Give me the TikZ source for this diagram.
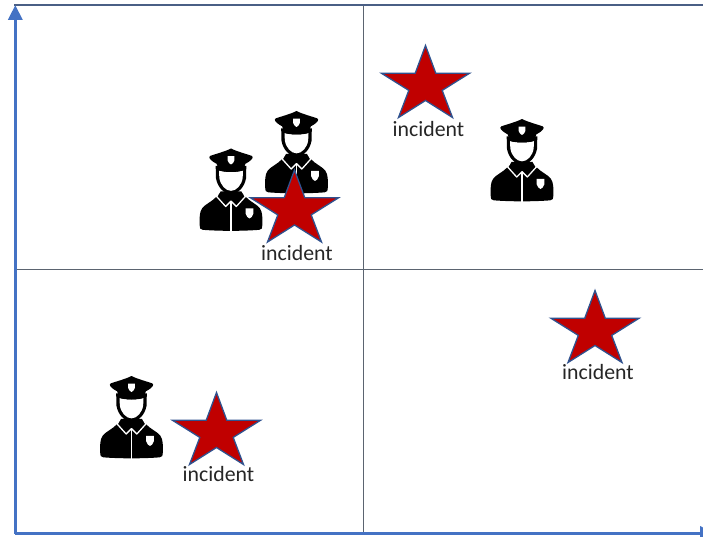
\documentclass[tikz,border=0pt]{standalone}
\usepackage{fontspec}
\setmainfont{Carlito}
\usetikzlibrary{arrows.meta}
\definecolor{axisblue}{HTML}{4472C4}
\definecolor{gridgray}{HTML}{5B6470}
\definecolor{topblue}{HTML}{4A5F85}
\definecolor{starred}{HTML}{C00000}
\definecolor{starline}{HTML}{2F528F}
\tikzset{
  gridline/.style={draw=gridgray,line width=0.9pt},
  topline/.style={draw=topblue,line width=1.6pt},
  axisline/.style={draw=axisblue,line width=3.4pt,-{Triangle[length=15pt,width=14pt]}},
  incidentlabel/.style={inner sep=0pt,font=\fontsize{21.8}{24}\selectfont,text=black!85},
  officer/.pic={
    \begin{scope}[x=0.3333pt,y=-0.3333pt,shift={(-125,-18)}]
      % body
      \fill[black] (40,262) .. controls (32,262) and (31,256) .. (31,248)
        .. controls (30,225) and (31,208) .. (38,198)
        .. controls (48,184) and (68,178) .. (82,162) -- (92,147) -- (158,147) -- (168,162)
        .. controls (182,178) and (202,184) .. (212,198)
        .. controls (219,208) and (220,225) .. (219,248)
        .. controls (219,256) and (218,262) .. (210,262)
        .. controls (160,266) and (90,266) .. (40,262) -- cycle;
      % collar
      \draw[white,line width=1.3pt,line join=round] (92,145) -- (82,162) -- (109,192) -- (125,176) -- (141,192) -- (168,162) -- (158,145);
      \draw[white,line width=1.2pt] (125,176) -- (125,268);
      % badge on chest
      \fill[white] (169,198) -- (192,198) -- (192,214) .. controls (190,222) and (185,226) .. (180.5,228)
        .. controls (176,226) and (171,222) .. (169,214) -- cycle;
      % head
      \fill[black] (79,70) -- (171,70) -- (170,108) .. controls (165,134) and (147,154) .. (125,154)
        .. controls (103,154) and (85,134) .. (80,108) -- cycle;
      \fill[white] (89,84) .. controls (110,90) and (140,90) .. (161,84) -- (160,106)
        .. controls (157,128) and (141,145) .. (125,145)
        .. controls (109,145) and (93,128) .. (90,106) -- cycle;
      % cap
      \fill[black] (125,18) .. controls (145,28) and (170,34) .. (187,40)
        .. controls (194,44) and (190,52) .. (168,64) -- (161,84)
        .. controls (140,90) and (110,90) .. (89,84) -- (82,64)
        .. controls (60,52) and (56,44) .. (63,40)
        .. controls (80,34) and (105,28) .. (125,18) -- cycle;
      \fill[white] (115,41) -- (135,41) -- (135,54) .. controls (133,61) and (129,64) .. (125,66)
        .. controls (121,64) and (117,61) .. (115,54) -- cycle;
    \end{scope}
  },
  incidentstar/.pic={
    \draw[fill=starred,draw=starline,line width=1.3pt,line join=miter,x=1pt,y=-1pt]
      (0,0) -- (10.3,27.8) -- (44,27.8) -- (16.7,44.9) -- (27,72)
      -- (0,55) -- (-27,72) -- (-16.7,44.9) -- (-44,27.8) -- (-10.3,27.8) -- cycle;
  }
}
\begin{document}
\begin{tikzpicture}[x=1pt,y=-1pt]
  \useasboundingbox (0,0) rectangle (703,537);
  \clip (0,0) rectangle (703,537);
  \fill[white] (0,0) rectangle (703,537);
  \coordinate (topleft) at (14,5.2);
  \coordinate (topright) at (703,5.2);
  \coordinate (midtop) at (363.5,5.5);
  \coordinate (midbottom) at (363.5,532);
  \coordinate (midleft) at (15,269);
  \coordinate (midright) at (703,269);
  \coordinate (origin) at (15.3,533.5);
  \coordinate (ytip) at (15.3,5);
  \coordinate (xtip) at (715,533.5);
  \draw[gridline] (midtop) -- (midbottom);
  \draw[gridline] (midleft) -- (midright);
  \draw[topline] (topleft) -- (topright);
  \draw[axisline] (origin) -- (ytip);
  \draw[axisline] (origin) -- (xtip);

  \pic (officerA) at (231,148.5) {officer};
  \pic (officerB) at (296.5,111) {officer};
  \pic (officerC) at (522,119) {officer};
  \pic (officerD) at (131.5,376) {officer};

  \pic (starA) at (294.5,170) {incidentstar};
  \pic (starB) at (425.5,45.5) {incidentstar};
  \pic (starC) at (595,290.5) {incidentstar};
  \pic (starD) at (216.5,392.5) {incidentstar};

  \node[incidentlabel] (labelA) at (297,253) {incident};
  \node[incidentlabel] (labelB) at (428.5,129) {incident};
  \node[incidentlabel] (labelC) at (598,372) {incident};
  \node[incidentlabel] (labelD) at (218.5,474) {incident};
\end{tikzpicture}
\end{document}
